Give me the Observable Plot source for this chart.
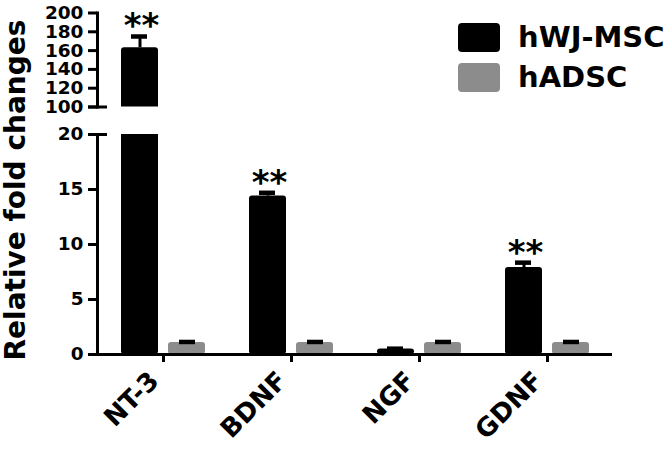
<!DOCTYPE html>
<html>
<head>
<meta charset="utf-8">
<script src="https://cdn.jsdelivr.net/npm/d3@7"></script>
<script src="https://cdn.jsdelivr.net/npm/@observablehq/plot@0.6"></script>
<style>
  html, body { margin: 0; padding: 0; background: #fff; }
  #chart { position: relative; width: 672px; height: 454px; overflow: hidden; font-family: "DejaVu Sans", sans-serif; }
  #chart svg { display: block; }
  .legend { position: absolute; left: 458px; top: 23px; }
  .legend-row { display: flex; align-items: center; height: 28.5px; margin-bottom: 11.5px; }
  .legend-swatch { width: 42px; height: 28.5px; border-radius: 4px; margin-right: 18px; }
  .legend-label { font-family: "DejaVu Sans", sans-serif; font-weight: bold; font-size: 29px; color: #000; white-space: nowrap; }
</style>
</head>
<body>
<div id="chart"></div>
<script>
// ---- data ----
const categories = ["NT-3", "BDNF", "NGF", "GDNF"];
const series = ["hWJ-MSC", "hADSC"];
const colors = ["#000000", "#8c8c8c"];
const wjMeans = [163, 14.4, 0.5, 7.9];
const wjErrors = [12, 0.3, 0.03, 0.45];
const adscMeans = [1.1, 1.1, 1.1, 1.1];
const adscErrors = [0.04, 0.04, 0.04, 0.04];
const significance = ["**", "**", "", "**"];
const yTicksUpper = [100, 120, 140, 160, 180, 200];
const yTicksLower = [0, 5, 10, 15, 20];
const yLabel = "Relative fold changes";

const wjRows = categories.map((c, i) => ({category: c, mean: wjMeans[i], upper: wjMeans[i] + wjErrors[i], sig: significance[i]}));
const adRows = categories.map((c, i) => ({category: c, mean: adscMeans[i], upper: adscMeans[i] + adscErrors[i]}));

const font = "DejaVu Sans";
const W = 672;
const mL = 97, mR = 60;
const xScale = {domain: categories, padding: 0, align: 0.5};

// marks for one panel of the broken axis, showing only what falls in [lo, hi]
function dataMarks(lo, hi) {
  const inPanel = (d) => d.upper >= lo && d.upper <= hi;
  const wjIn = wjRows.filter(inPanel);
  const adIn = adRows.filter(inPanel);
  return [
    Plot.barY(wjRows.filter((d) => d.mean > lo), {x: "category", y1: 0, y2: "mean", fill: colors[0], insetLeft: 22, insetRight: 69, rx: 3, clip: true}),
    Plot.barY(adRows.filter((d) => d.mean > lo), {x: "category", y1: 0, y2: "mean", fill: colors[1], insetLeft: 69, insetRight: 22, rx: 3, clip: true}),
    Plot.ruleX(wjIn, {x: "category", y1: "mean", y2: "upper", dx: -23.5, stroke: "#000", strokeWidth: 3, clip: true}),
    Plot.ruleX(adIn, {x: "category", y1: "mean", y2: "upper", dx: 23.5, stroke: "#000", strokeWidth: 3, clip: true}),
    Plot.tickY(wjIn, {x: "category", y: "upper", insetLeft: 32, insetRight: 80, stroke: "#000", strokeWidth: 4.5}),
    Plot.tickY(adIn, {x: "category", y: "upper", insetLeft: 80, insetRight: 32, stroke: "#000", strokeWidth: 4.5}),
    Plot.text(wjIn.filter((d) => d.sig), {x: "category", y: "upper", text: "sig", dx: -22, dy: -10, fontSize: 34, fontWeight: "bold", fontFamily: font, fill: "#000"})
  ];
}

function yAxisMarks(ticks, breakTick) {
  return [
    Plot.axisY(ticks, {anchor: "left", tickSize: 9, tickPadding: 5, strokeWidth: 3, fontSize: 18.5, fontWeight: "bold", fontFamily: font, fill: "#000", stroke: "#000", label: null}),
    Plot.axisY([breakTick], {anchor: "left", tickSize: 19, dx: 10, strokeWidth: 3, stroke: "#000", tickFormat: () => "", label: null}),
    Plot.frame({anchor: "left", stroke: "#000", strokeWidth: 3})
  ];
}

// Upper panel: 100–200
const upper = Plot.plot({
  width: W, height: 120,
  marginLeft: mL, marginRight: mR, marginTop: 12.5, marginBottom: 13.5,
  style: {fontFamily: font, background: "transparent", overflow: "visible"},
  x: {...xScale, axis: null},
  y: {domain: [100, 200], axis: null},
  marks: [
    ...dataMarks(100, 200),
    ...yAxisMarks(yTicksUpper, 100)
  ]
});

// Lower panel: 0–20
const lower = Plot.plot({
  width: W, height: 334,
  marginLeft: mL, marginRight: mR, marginTop: 14, marginBottom: 100,
  style: {fontFamily: font, background: "transparent", overflow: "visible"},
  x: {...xScale, axis: null},
  y: {domain: [0, 20], axis: null},
  marks: [
    ...dataMarks(0, 20),
    Plot.ruleY([0], {stroke: "#000", strokeWidth: 3}),
    ...yAxisMarks(yTicksLower, 20),
    Plot.axisX({anchor: "bottom", tickSize: 8, strokeWidth: 3, stroke: "#000", text: null, label: null}),
    Plot.axisX({anchor: "bottom", tickSize: 0, tickPadding: 22, dx: -9, tickRotate: -45, fontSize: 26, fontWeight: "bold", fontFamily: font, fill: "#000", label: null}),
    Plot.text([yLabel], {frameAnchor: "left", rotate: -90, dx: -81, dy: -54.5, fontSize: 28, fontWeight: "bold", fontFamily: font, fill: "#000", textAnchor: "middle"})
  ]
});

const chart = document.getElementById("chart");
chart.appendChild(upper);
chart.appendChild(lower);

// Legend
const legend = document.createElement("div");
legend.className = "legend";
series.forEach((s, i) => {
  const row = document.createElement("div");
  row.className = "legend-row";
  const sw = document.createElement("div");
  sw.className = "legend-swatch";
  sw.style.background = colors[i];
  const lab = document.createElement("span");
  lab.className = "legend-label";
  lab.textContent = s;
  row.appendChild(sw);
  row.appendChild(lab);
  legend.appendChild(row);
});
chart.appendChild(legend);
</script>
</body>
</html>
